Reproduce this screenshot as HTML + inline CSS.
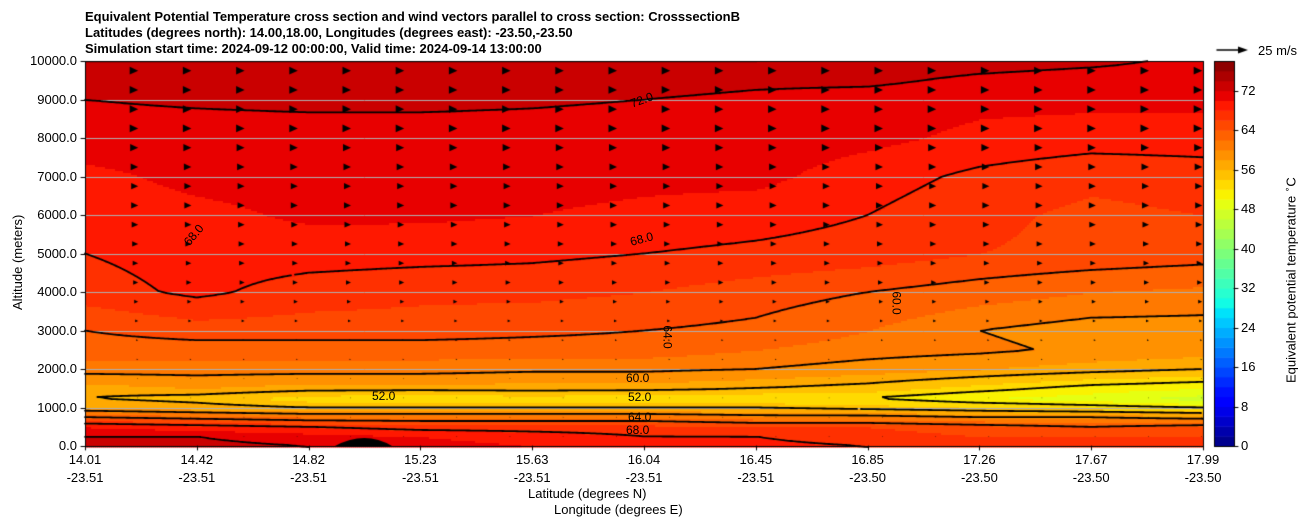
<!DOCTYPE html>
<html><head><meta charset="utf-8">
<style>
body{margin:0;background:#fff;width:1308px;height:526px;overflow:hidden;position:relative;font-family:"Liberation Sans","DejaVu Sans",sans-serif;}
.t{position:absolute;font-size:13px;color:#000;white-space:nowrap}
.title{font-weight:bold;left:85px;font-size:13px}
.yl{position:absolute;right:1231px;font-size:13px;text-align:right}
.xl{position:absolute;font-size:13px;text-align:center;width:80px;line-height:18px}
.cl{position:absolute;font-size:12px}
</style></head><body>
<div class="t title" style="top:9px">Equivalent Potential Temperature cross section and wind vectors parallel to cross section: CrosssectionB</div>
<div class="t title" style="top:25px">Latitudes (degrees north): 14.00,18.00, Longitudes (degrees east): -23.50,-23.50</div>
<div class="t title" style="top:41px">Simulation start time: 2024-09-12 00:00:00, Valid time: 2024-09-14 13:00:00</div>
<canvas id="cv" width="1308" height="526" style="position:absolute;left:0;top:0"></canvas>
<div id="txt"></div>
<div class="t" style="left:10px;top:310px;transform:rotate(-90deg);transform-origin:0 0">Altitude (meters)</div>
<div class="t" style="left:528px;top:486px">Latitude (degrees N)</div>
<div class="t" style="left:554px;top:502px">Longitude (degrees E)</div>
<div class="t" style="left:1258px;top:43px">25 m/s</div>
<div class="t" style="left:1282px;top:383px;transform:rotate(-90deg);transform-origin:0 0">Equivalent potential temperature <sup style="font-size:9px">∘</sup>C</div>
<script>
const colLat=["14.01","14.42","14.82","15.23","15.63","16.04","16.45","16.85","17.26","17.67","17.99"];
const colLon=["-23.51","-23.51","-23.51","-23.51","-23.51","-23.51","-23.51","-23.50","-23.50","-23.50","-23.50"];
const yTicks=[0,1000,2000,3000,4000,5000,6000,7000,8000,9000,10000];
const cbTicks=[0,8,16,24,32,40,48,56,64,72];
const altRows=[0,250,500,750,1000,1250,1500,2000,2500,3000,4000,5000,6000,7000,8000,9000,9500,10000];
const theta=[
[72.5,72.5,72,71,70,69,68.5,68,67,66.5,66.5],
[72,72,71,70,69,68,68,67,66,66,66],
[70,69,68,67,67,67,66,66,65,64,65],
[64,63,62,62,62,62,61,61,60,60,59],
[58,57,56,56,56,56,56,55,54,53,52],
[56,55,53,52,53,52,52,52,50,49,47],
[57,58,57,57,57,57,56,55,53,51,50],
[61,61,61,61,60.5,60.5,60,59,58,57,56],
[63,63,63,63,63,63,62,61,60.5,59.5,59],
[64,65,65,65,64.5,64,63.5,62,60,59,59],
[67,68.5,67,66.5,66.5,66,65,64,63,62,61.5],
[68,69,69,68.8,68.5,68,67.5,67,66,65.5,65],
[69,69.5,70.3,70.3,70,69.5,69,68,66.5,65.5,66],
[69.5,70.5,70.8,70.5,70.8,70.5,70.5,69,67.5,66.5,67],
[71,71,71,71,71,70.8,71,70.5,69.5,69,69],
[72,72.3,72.5,72.5,72.3,72,71.5,71,70.5,70.5,70.5],
[73.5,73.5,73.5,73.5,73.5,73,72.5,72.5,71.5,71,71],
[74,74,74,74,74,74,74,73.5,73,72.5,71.5]];
const windAlt=[250,750,1250,1750,2250,2750,3250,3750,4250,4750,5250,5750,6250,6750,7250,7750,8250,8750,9250,9750];
const windSpeed=[1,1,1,1,1.5,2,3,4,5,5.5,6,6.5,7,7,7.5,8,8.5,8.5,8.5,8.5];
const X0=85,X1=1203,Y0=61,Y1=446,VMAX=10000;
const xp=i=>X0+(X1-X0)*i/(colLat.length-1);
const yp=a=>Y1-(Y1-Y0)*a/VMAX;
function val(fx,alt){
  let i=Math.min(Math.floor(fx),colLat.length-2),tx=fx-i;
  let r=0;while(r<altRows.length-2&&altRows[r+1]<alt)r++;
  let ty=(alt-altRows[r])/(altRows[r+1]-altRows[r]);ty=Math.max(0,Math.min(1,ty));
  const a=theta[r][i]*(1-tx)+theta[r][i+1]*tx,b=theta[r+1][i]*(1-tx)+theta[r+1][i+1]*tx;
  return a*(1-ty)+b*ty;}
function seg(p,t){for(let k=0;k<p.length-1;k++){if(t<=p[k+1][0]){const f=(t-p[k][0])/(p[k+1][0]-p[k][0]);return p[k][1]+(p[k+1][1]-p[k][1])*f;}}return p[p.length-1][1];}
const JR=[[0,0],[0.35,0],[0.66,1],[0.89,1],[1,0.5]];
const JG=[[0,0],[0.125,0],[0.375,1],[0.64,1],[0.91,0],[1,0]];
const JB=[[0,0.5],[0.11,1],[0.34,1],[0.65,0],[1,0]];
function jet(t){const c=x=>Math.round(255*Math.max(0,Math.min(1,x)));
  return `rgb(${c(seg(JR,t))},${c(seg(JG,t))},${c(seg(JB,t))})`;}
const lvlColor=v=>{let l=Math.max(0,Math.min(38,Math.floor(v/2)));return jet((l+0.5)/39);};
const cv=document.getElementById('cv'),ctx=cv.getContext('2d');
const S=2,NX=Math.ceil((X1-X0)/S),NY=Math.ceil((Y1-Y0)/S);
const G=[];
for(let j=0;j<=NY;j++){G.push([]);for(let i=0;i<=NX;i++){
  const x=Math.min(X1,X0+i*S),y=Math.min(Y1,Y0+j*S);
  G[j].push(val((x-X0)/(X1-X0)*(colLat.length-1),(Y1-y)/(Y1-Y0)*VMAX));}}
for(let j=0;j<NY;j++)for(let i=0;i<NX;i++){ctx.fillStyle=lvlColor(G[j][i]);ctx.fillRect(X0+i*S,Y0+j*S,S+0.5,S+0.5);}
ctx.fillStyle='#000';ctx.beginPath();ctx.moveTo(335,446);ctx.quadraticCurveTo(365,430,392,446);ctx.fill();
ctx.strokeStyle='#b0b0b0';ctx.lineWidth=1;
yTicks.forEach(a=>{ctx.beginPath();ctx.moveTo(X0,Math.round(yp(a))+0.5);ctx.lineTo(X1,Math.round(yp(a))+0.5);ctx.stroke();});
const levels=[52,56,60,64,68,72];
ctx.strokeStyle='#000';ctx.lineWidth=1.8;ctx.lineCap='round';
levels.forEach(L=>{ctx.beginPath();
 for(let j=0;j<NY;j++)for(let i=0;i<NX;i++){
  const x=X0+i*S,y=Y0+j*S,v=[G[j][i],G[j][i+1],G[j+1][i+1],G[j+1][i]];
  const P=[[x,y],[x+S,y],[x+S,y+S],[x,y+S]],pts=[];
  for(let k=0;k<4;k++){const a=v[k],b=v[(k+1)%4];if((a-L)*(b-L)<0){const t=(L-a)/(b-a);
   pts.push([P[k][0]+(P[(k+1)%4][0]-P[k][0])*t,P[k][1]+(P[(k+1)%4][1]-P[k][1])*t]);}}
  for(let k=0;k+1<pts.length;k+=2){ctx.moveTo(pts[k][0],pts[k][1]);ctx.lineTo(pts[k+1][0],pts[k+1][1]);}
 }ctx.stroke();});
ctx.fillStyle='#000';
windAlt.forEach((a,r)=>{const s=windSpeed[r];for(let c=1;c<=21;c++){const x=X0+c*53.2,y=yp(a);if(x>X1+1)continue;
 ctx.beginPath();ctx.moveTo(x-s,y-s*0.45);ctx.lineTo(x,y);ctx.lineTo(x-s,y+s*0.45);ctx.closePath();ctx.fill();}});
ctx.strokeStyle='#000';ctx.lineWidth=1;ctx.strokeRect(X0+0.5,Y0+0.5,X1-X0,Y1-Y0);
ctx.beginPath();
yTicks.forEach(a=>{ctx.moveTo(X0-4,Math.round(yp(a))+0.5);ctx.lineTo(X0,Math.round(yp(a))+0.5);});
colLat.forEach((_,i)=>{ctx.moveTo(Math.round(xp(i))+0.5,Y1);ctx.lineTo(Math.round(xp(i))+0.5,Y1+4);});ctx.stroke();
const CX=1214,CW=20;
for(let l=0;l<39;l++){ctx.fillStyle=jet((l+0.5)/39);const ya=Y1-(Y1-Y0)*(l+1)*2/78,yb=Y1-(Y1-Y0)*l*2/78;ctx.fillRect(CX,ya,CW,yb-ya+0.5);}
ctx.strokeRect(CX+0.5,Y0+0.5,CW,Y1-Y0);
ctx.beginPath();cbTicks.forEach(v=>{const y=Math.round(Y1-(Y1-Y0)*v/78)+0.5;ctx.moveTo(CX+CW,y);ctx.lineTo(CX+CW+4,y);});ctx.stroke();
ctx.strokeStyle='#000';ctx.fillStyle='#000';
ctx.lineWidth=1.5;ctx.beginPath();ctx.moveTo(1217,50);ctx.lineTo(1240,50);ctx.stroke();
ctx.beginPath();ctx.moveTo(1248,50);ctx.lineTo(1238,46.5);ctx.lineTo(1238,53.5);ctx.closePath();ctx.fill();
const T=document.getElementById('txt');
yTicks.forEach(a=>{const d=document.createElement('div');d.className='yl';d.style.top=(yp(a)-8)+'px';d.textContent=a.toFixed(1);
 
 T.appendChild(d);});
colLat.forEach((l,i)=>{const d=document.createElement('div');d.className='xl';d.style.left=(xp(i)-40)+'px';d.style.top='451px';d.innerHTML=l+'<br>'+colLon[i];
 
 T.appendChild(d);});
cbTicks.forEach(v=>{const d=document.createElement('div');d.className='t';d.style.left='1241px';d.style.top=(Y1-(Y1-Y0)*v/78-8)+'px';d.textContent=v;
 
 T.appendChild(d);});
const labs=[["72.0",630,93,-20],["68.0",630,232,-15],["68.0",182,228,-50],["60.0",626,371,0],["52.0",372,389,0],["52.0",628,390,0],["64.0",628,410,0],["68.0",626,423,0],["60.0",885,296,90],["64.0",656,330,90]];
labs.forEach(([s,x,y,r])=>{const d=document.createElement('div');d.className='cl';d.style.left=x+'px';d.style.top=y+'px';d.style.transform='rotate('+r+'deg)';d.textContent=s;
 
 T.appendChild(d);});
</script>
</body></html>
